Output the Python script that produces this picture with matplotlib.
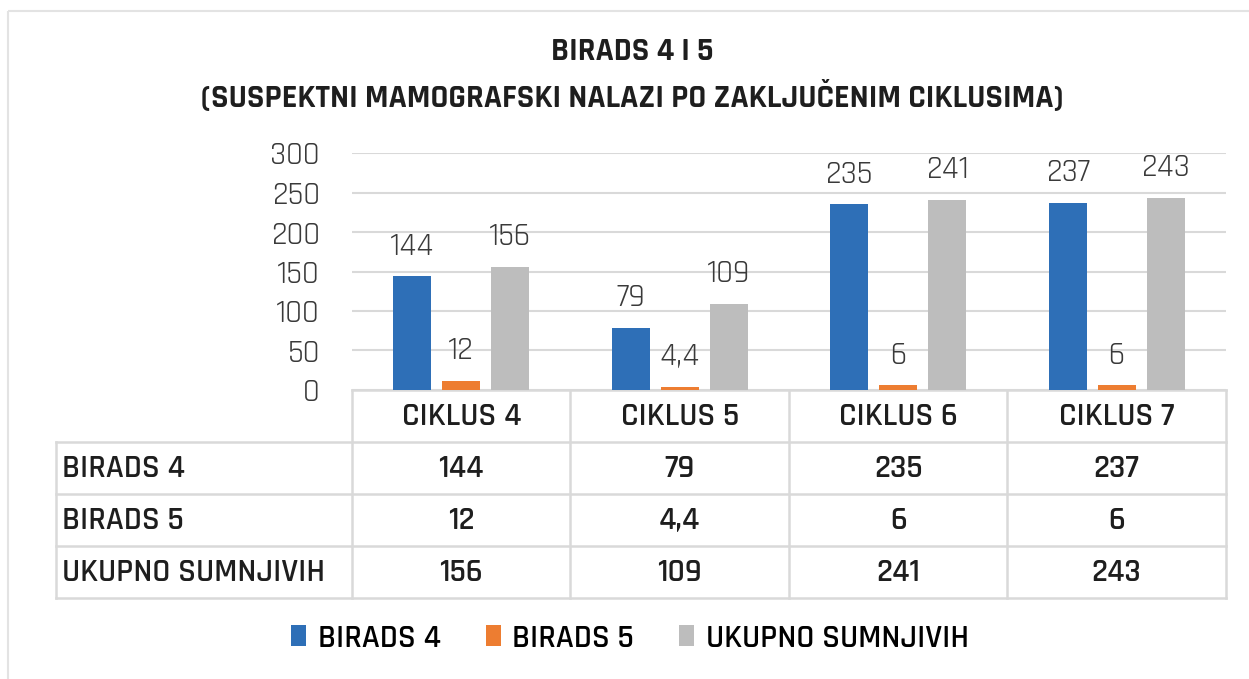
import matplotlib
matplotlib.use("Agg")
import matplotlib.pyplot as plt
import numpy as np
from matplotlib.patches import Rectangle

plt.rcParams['font.family'] = ['Rajdhani', 'DejaVu Sans']

# data
ciklusi = ["CIKLUS 4", "CIKLUS 5", "CIKLUS 6", "CIKLUS 7"]
birads4 = [144, 79, 235, 237]
birads5 = [12, 4.4, 6, 6]
ukupno = [156, 109, 241, 243]
series_names = ["BIRADS 4", "BIRADS 5", "UKUPNO SUMNJIVIH"]
series_vals = [birads4, birads5, ukupno]
colors = ["#2E6FB7", "#ED7D31", "#BDBDBD"]
yticks = [0, 50, 100, 150, 200, 250, 300]

def fmt(v):
    return str(v).replace(".", ",")

W, H = 1249, 679
fig = plt.figure(figsize=(W / 100, H / 100), dpi=100)
txt = "#1E1E1E"
lbl = "#3A3A3A"
grid = "#D9D9D9"
fs = 23.5

# overlay in pixel coordinates for frame and table
ov = fig.add_axes([0, 0, 1, 1])
ov.set_xlim(0, W)
ov.set_ylim(H, 0)
ov.axis("off")
ov.add_patch(Rectangle((8, 11), W + 20, H + 20, fill=False, ec="#E3E3E3", lw=1.5))

# chart axes
x0, x1, yb, yt = 352, 1226, 390, 153
ax = fig.add_axes([x0 / W, 1 - yb / H, (x1 - x0) / W, (yb - yt) / H])
ax.set_xlim(-0.5, len(ciklusi) - 0.5)
ax.set_ylim(0, 300)
ax.set_yticks(yticks)
ax.set_yticklabels([str(t) for t in yticks], fontsize=fs, fontweight=400, color=lbl)
ax.tick_params(axis="y", length=0, pad=23)
ax.set_xticks([])
for s in ax.spines.values():
    s.set_visible(False)
ax.grid(axis="y", color=grid, lw=1.5)
ax.set_axisbelow(True)

xs = np.arange(len(ciklusi))
bw = 0.174
offs = [-0.224, 0, 0.224]
for vals, off, c, name in zip(series_vals, offs, colors, series_names):
    bars = ax.bar(xs + off, vals, width=bw, color=c, label=name, zorder=3)
    for b, v in zip(bars, vals):
        ax.annotate(fmt(v), (b.get_x() + b.get_width() / 2, v), xytext=(0, 12),
                    textcoords="offset points", ha="center", va="bottom",
                    fontsize=fs, fontweight=400, color=lbl)

# title
fig.text(0.506, 1 - 51 / H, "BIRADS 4 I 5", ha="center", va="center",
         fontsize=23.5, fontweight="bold", color=txt)
fig.text(0.506, 1 - 95 / H, "(SUSPEKTNI MAMOGRAFSKI NALAZI PO ZAKLJUČENIM CIKLUSIMA)",
         ha="center", va="center", fontsize=23.5, fontweight="bold", color=txt)

# table
col_w = (x1 - x0) / len(ciklusi)
col_edges = [x0 + i * col_w for i in range(len(ciklusi) + 1)]
row_h = 52
tl = 56
rows_y = [yb + i * row_h for i in range(len(series_names) + 2)]
lw = 1.8
ov.plot([x0, x1], [rows_y[0], rows_y[0]], color=grid, lw=lw)
for y in rows_y[1:]:
    ov.plot([tl, x1], [y, y], color=grid, lw=lw)
for xe in col_edges:
    ov.plot([xe, xe], [rows_y[0], rows_y[-1]], color=grid, lw=lw)
ov.plot([tl, tl], [rows_y[1], rows_y[-1]], color=grid, lw=lw)

for j, c in enumerate(ciklusi):
    ov.text(x0 + (j + 0.5) * col_w, rows_y[0] + row_h / 2, c, ha="center", va="center",
            fontsize=fs, fontweight=600, color=txt)
for i, (name, vals) in enumerate(zip(series_names, series_vals)):
    yc = rows_y[i + 1] + row_h / 2
    ov.text(tl + 6, yc, name, ha="left", va="center", fontsize=fs,
            fontweight=600, color=txt)
    for j, v in enumerate(vals):
        ov.text(x0 + (j + 0.5) * col_w, yc, fmt(v), ha="center", va="center",
                fontsize=fs, fontweight=600, color=txt)

# legend
handles, labels = ax.get_legend_handles_labels()
fig.legend(handles, labels, loc="center", bbox_to_anchor=(0.5044, 1 - 638 / H), ncol=3,
           frameon=False, handlelength=0.46, handleheight=0.62,
           handletextpad=0.36, columnspacing=1.38,
           prop={"weight": 600, "size": fs})

fig.savefig("out.png", dpi=100)
